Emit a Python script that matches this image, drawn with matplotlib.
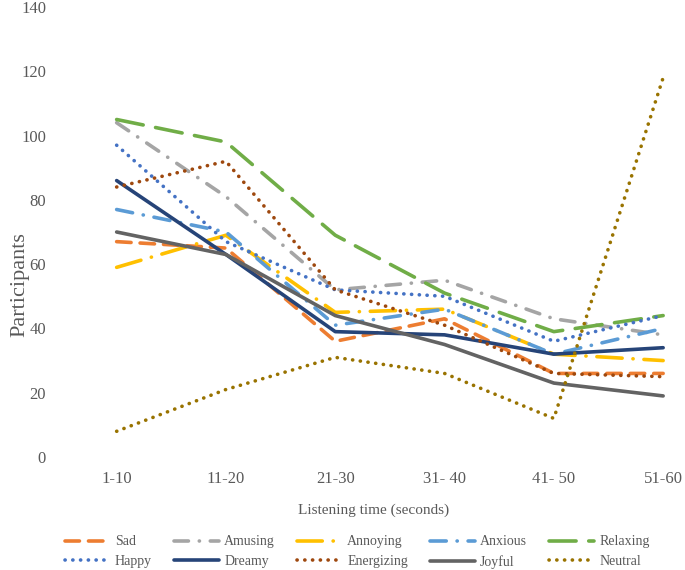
import numpy as np
import matplotlib
matplotlib.use("Agg")
import matplotlib.pyplot as plt

# categories and values
bins = ["1-10", "11-20", "21-30", "31- 40", "41- 50", "51-60"]
sad = [67, 65, 36, 43, 26, 26]
amusing = [104, 81, 52, 55, 43, 38]
annoying = [59, 69, 45, 46, 32, 30]
anxious = [77, 70, 41, 46, 32, 40]
relaxing = [105, 98, 69, 51, 39, 44]
happy = [97, 67, 52, 50, 36, 44]
dreamy = [86, 63, 39, 38, 32, 34]
energizing = [84, 92, 52, 41, 26, 25]
joyful = [70, 63, 44, 35, 23, 19]
neutral = [8, 21, 31, 26, 12, 118]

plt.rcParams['font.family'] = ['Liberation Serif', 'DejaVu Serif']

dot = (0, (0.05, 2.1))
series = [
    ("Sad", sad, "#ED7D31", (0, (4.0, 2.5)), 'round'),
    ("Amusing", amusing, "#A5A5A5", (0, (4.0, 3.0, 0.05, 3.0)), 'round'),
    ("Annoying", annoying, "#FFC000", (0, (7.0, 3.0, 0.05, 3.0)), 'round'),
    ("Anxious", anxious, "#5B9BD5", (0, (4.5, 3.0, 0.05, 3.0)), 'round'),
    ("Relaxing", relaxing, "#70AD47", (0, (7.5, 3.5)), 'round'),
    ("Happy", happy, "#4472C4", dot, 'round'),
    ("Dreamy", dreamy, "#264478", '-', 'round'),
    ("Energizing", energizing, "#9E480E", dot, 'round'),
    ("Joyful", joyful, "#636363", '-', 'round'),
    ("Neutral", neutral, "#997300", dot, 'round'),
]

fig = plt.figure(figsize=(6.85, 5.7), dpi=100)
ax = fig.add_axes([62 / 685, 1 - 457 / 570, 623 / 685, 450 / 570])
x = np.arange(len(bins))
lines = {}
for name, vals, col, ls, cap in series:
    ln, = ax.plot(x, vals, color=col, linestyle=ls, linewidth=2.6,
                  dash_capstyle=cap, solid_capstyle='round', label=name)
    lines[name] = ln

ax.set_xlim(-0.5, 5.2)
ax.set_ylim(0, 140)
ax.set_yticks(range(0, 141, 20))
ax.set_xticks(x)
ax.set_xticklabels(bins)
for s in ax.spines.values():
    s.set_visible(False)
ax.tick_params(length=0, labelsize=12, colors="#595959", pad=10)
ax.tick_params(axis='y', pad=11.5)
ax.set_ylabel("Participants", fontsize=16, color="#595959")
ax.yaxis.set_label_coords(-0.052, 0.384)
ax.set_xlabel("Listening time (seconds)", fontsize=11, color="#595959", labelpad=12)

# legend filled row by row, like the original
order = ["Sad", "Happy", "Amusing", "Dreamy", "Annoying", "Energizing",
         "Anxious", "Joyful", "Relaxing", "Neutral"]
leg = fig.legend([lines[n] for n in order], order, loc="center left",
                 bbox_to_anchor=(58 / 685, 1 - 552 / 570), ncol=5,
                 frameon=False, fontsize=10, handlelength=3.2, handletextpad=0.4,
                 columnspacing=1.6, labelspacing=0.45, labelcolor="#595959",
                 borderpad=0)

fig.savefig("out.png", dpi=100)
